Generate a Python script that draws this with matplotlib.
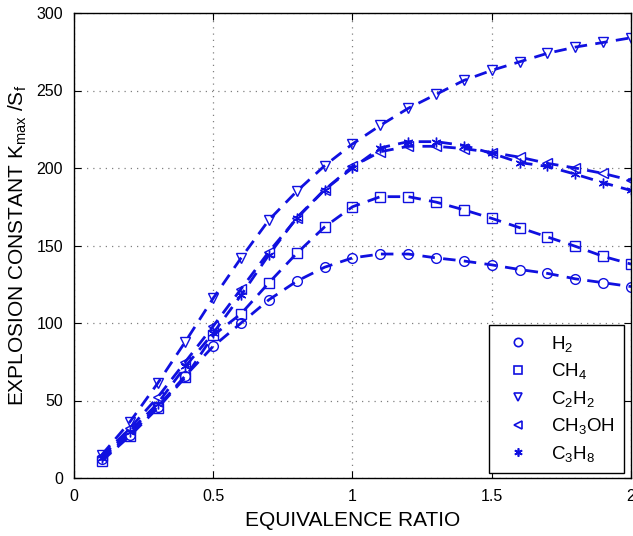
import numpy as np
import matplotlib.pyplot as plt
from matplotlib.lines import Line2D

plt.rcParams['font.family'] = ['Liberation Sans', 'DejaVu Sans']
plt.rcParams['mathtext.fontset'] = 'custom'
plt.rcParams['mathtext.rm'] = 'Liberation Sans'
plt.rcParams['mathtext.it'] = 'Liberation Sans'

# Equivalence ratio
phi = [0.1, 0.2, 0.3, 0.4, 0.5, 0.6, 0.7, 0.8, 0.9, 1.0,
       1.1, 1.2, 1.3, 1.4, 1.5, 1.6, 1.7, 1.8, 1.9, 2.0]

# Explosion constant Kmax/Sf for each fuel
h2 = [12, 28, 46, 66, 85, 100, 115, 127, 136, 142,
      144.5, 144.5, 142, 140, 137.5, 134.5, 132, 128.5, 126, 123.5]
ch4 = [11, 27, 45, 65, 92, 106, 126, 145, 162, 175,
       181.5, 181.5, 178, 173, 167.5, 161.5, 155.5, 149.5, 143, 138]
c2h2 = [15, 36, 61, 88, 116, 142, 166.5, 185, 201.5, 215.5,
        227.5, 238.5, 247.5, 256.5, 263, 268.5, 274, 278, 281, 284]
ch3oh = [14, 32, 52, 75, 98, 122, 146, 167.5, 186, 201,
         210.5, 214, 214, 212.5, 210, 207, 203, 200, 196.5, 192]
c3h8 = [13, 30, 48, 72, 93.5, 118, 144, 168, 186, 200,
        213, 217, 217, 214.5, 209.5, 203.5, 201, 196, 190.5, 185.5]

labels = ['H$_2$', 'CH$_4$', 'C$_2$H$_2$', 'CH$_3$OH', 'C$_3$H$_8$']
markers = ['o', 's', 'v', '<', (6, 2, 0)]
series = [h2, ch4, c2h2, ch3oh, c3h8]

fig = plt.figure(figsize=(6.33, 5.36), dpi=100)
ax = fig.add_axes([74 / 633, 1 - 478 / 536, (631 - 74) / 633, (478 - 13) / 536])

blue = '#1010e0'
for y, m in zip(series, markers):
    ax.plot(phi, y, color=blue, linestyle=(0, (4.5, 3)), linewidth=2.0,
            marker=m, markersize=7, markerfacecolor='none',
            markeredgecolor=blue, markeredgewidth=1.0)

ax.set_xlim(0, 2)
ax.set_ylim(0, 300)
ax.set_xticks([0, 0.5, 1, 1.5, 2])
ax.set_xticklabels(['0', '0.5', '1', '1.5', '2'])
ax.set_yticks(range(0, 301, 50))
ax.tick_params(direction='in', top=True, right=True, labelsize=11.5, length=5, pad=8)
ax.grid(True, linestyle=(0, (1, 4)), color='#808080', linewidth=0.9)
for s in ax.spines.values():
    s.set_linewidth(1.0)

ax.set_xlabel('EQUIVALENCE RATIO', fontsize=15, labelpad=5)
ax.set_ylabel('EXPLOSION CONSTANT K$_{max}$ /S$_f$', fontsize=15)
ax.yaxis.set_label_coords(-0.081, 0.5)

handles = [Line2D([], [], linestyle='none', marker=m, markersize=6,
                  markerfacecolor='none', markeredgecolor=blue,
                  markeredgewidth=1.2) for m in markers]
leg = ax.legend(handles, labels, loc='lower right', fontsize=13.5, fancybox=False,
                framealpha=1, edgecolor='black', handletextpad=0.8,
                labelspacing=0.4, borderaxespad=0, handlelength=2.0,
                bbox_to_anchor=(0.988, 0.01), borderpad=0.5)
leg.get_frame().set_linewidth(1.0)

fig.savefig('out.png', dpi=100)
